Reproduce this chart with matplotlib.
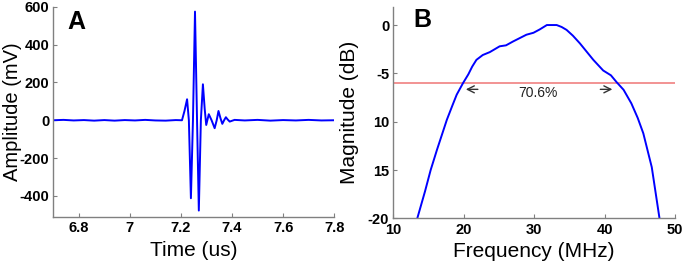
import numpy as np
import matplotlib
matplotlib.use('Agg')
import matplotlib.pyplot as plt

plt.rcParams['font.family'] = ['Liberation Sans', 'DejaVu Sans']

# panel A: pulse-echo signal (time in us, amplitude in mV)
time_us = [6.70, 6.74, 6.78, 6.82, 6.86, 6.90, 6.94, 6.98, 7.02, 7.06, 7.10, 7.14, 7.18, 7.204,
           7.214, 7.224, 7.231, 7.239, 7.247, 7.255, 7.263, 7.270, 7.278, 7.286, 7.293,
           7.299, 7.309, 7.320, 7.332, 7.340, 7.347, 7.355, 7.362, 7.369, 7.376, 7.383,
           7.391, 7.41, 7.45, 7.50, 7.55, 7.60, 7.65, 7.70, 7.75, 7.80]
amp_mv = [0, 2, -1, 1, -2, 1, -2, 1, -1, 2, -1, -2, 1, 0,
          50, 111, 0, -412, 0, 574, 0, -477, 0, 190, 60,
          -25, 32, 0, -42, 0, 49, 10, -19, 0, 16, 4,
          -7, 2, -1, 2, -2, 1, -1, 2, -1, 0]

# panel B: spectrum (MHz, dB)
freq_mhz = [13.0, 13.4, 14.5, 15.3, 16.2, 17.6, 18.4, 19.0, 19.9, 20.65, 21.2, 21.8, 22.7,
            23.7, 25.1, 26.0, 27.0, 28.9, 29.9, 30.8, 31.8, 33.2, 33.9, 34.6, 35.5, 36.5,
            38.4, 39.8, 40.9, 41.7, 42.7, 43.8, 44.7, 45.5, 46.7, 47.8, 48.0]
mag_db = [-21.5, -20, -17.2, -15.0, -12.9, -9.8, -8.3, -7.2, -6.0, -5.1, -4.3, -3.6, -3.1,
          -2.8, -2.2, -2.1, -1.7, -1.0, -0.8, -0.45, 0, 0, -0.2, -0.5, -1.1, -1.9,
          -3.6, -4.7, -5.2, -5.9, -6.7, -8.1, -9.6, -11.2, -14.7, -20, -21.5]
bw_level = -6
bw_left, bw_right = 19.9, 41.5
bw_text = '70.6%'

fig = plt.figure(figsize=(6.85, 2.67), dpi=100)
axA = fig.add_axes([0.0778, 0.188, 0.410, 0.787])
axB = fig.add_axes([0.5742, 0.182, 0.4112, 0.793])

gray = '#808080'
for ax in (axA, axB):
    for s in ('top', 'right'):
        ax.spines[s].set_visible(False)
    for s in ('left', 'bottom'):
        ax.spines[s].set_color(gray)
        ax.spines[s].set_linewidth(1.0)
    ax.tick_params(direction='in', length=3, color=gray, labelsize=10.5, pad=3)

axA.plot(time_us, amp_mv, color='#0000ff', lw=1.4)
axA.set_xlim(6.7, 7.8)
axA.set_ylim(-510, 600)
axA.set_xticks([6.8, 7.0, 7.2, 7.4, 7.6, 7.8])
axA.set_xticklabels(['6.8', '7', '7.2', '7.4', '7.6', '7.8'], fontweight='bold')
axA.set_yticks([-400, -200, 0, 200, 400, 600])
axA.set_yticklabels(['-400', '-200', '0', '200', '400', '600'], fontweight='bold')
axA.set_xlabel('Time (us)', fontsize=15, labelpad=4)
axA.set_ylabel('Amplitude (mV)', fontsize=14.5, labelpad=0)
axA.yaxis.set_label_coords(-0.112, 0.5)
axA.text(0.05, 0.985, 'A', transform=axA.transAxes, fontsize=18, fontweight='bold',
         va='top', ha='left')

axB.axhline(bw_level, color='#f08080', lw=1.2)
axB.plot(freq_mhz, mag_db, color='#0000ff', lw=1.4)
axB.set_xlim(10, 50)
axB.set_ylim(-20, 1.9)
axB.set_xticks([10, 20, 30, 40, 50])
axB.set_xticklabels(['10', '20', '30', '40', '50'], fontweight='bold')
axB.set_yticks([0, -5, -10, -15, -20])
axB.set_yticklabels(['0', '-5', '10', '15', '-20'], fontweight='bold')
axB.set_xlabel('Frequency (MHz)', fontsize=15, labelpad=4)
axB.set_ylabel('Magnitude (dB)', fontsize=15, labelpad=6)
axB.text(0.07, 0.994, 'B', transform=axB.transAxes, fontsize=18, fontweight='bold',
         va='top', ha='left')

arrow_y = -6.65
astyle = dict(arrowstyle='->,head_width=0.25,head_length=0.5', color='#333333', lw=1.0)
axB.annotate('', xy=(bw_left, arrow_y), xytext=(bw_left + 2.5, arrow_y), arrowprops=astyle)
axB.annotate('', xy=(bw_right, arrow_y), xytext=(bw_right - 2.5, arrow_y), arrowprops=astyle)
axB.text(30.6, -7.05, bw_text, ha='center', va='center', fontsize=10, color='#222222')

fig.savefig('out.png', dpi=100)
